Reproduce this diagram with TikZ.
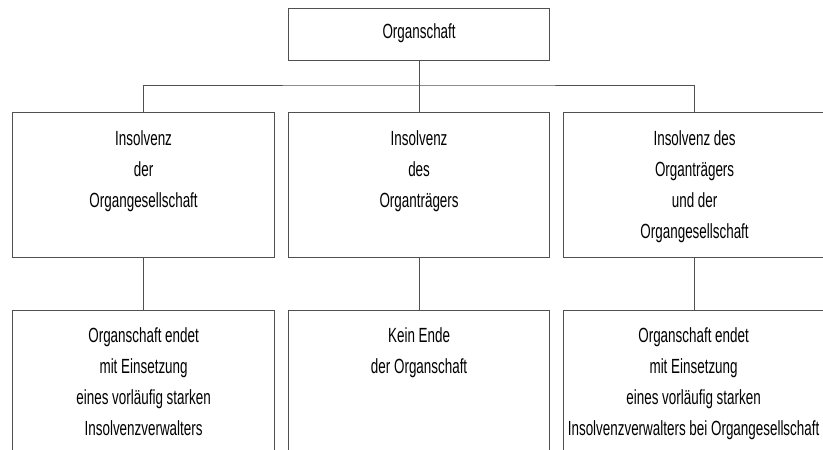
\documentclass[tikz,border=0pt]{standalone}
\usepackage{fontspec}
\setmainfont[FakeStretch=0.655]{Liberation Sans}
\definecolor{linegray}{HTML}{505050}
\begin{document}
\begin{tikzpicture}[x=1pt,y=1pt,
  box/.style={draw=linegray,line width=1.2pt,rectangle,inner sep=0pt,anchor=north west},
  txt/.style={anchor=north,inner sep=0pt,align=center,font=\fontsize{20.5}{31}\selectfont,text=black},
  conn/.style={draw=linegray,line width=1pt}]
\useasboundingbox (0,0) rectangle (823,-450);
\begin{scope}
\clip (0,0) rectangle (823,-450);
% boxes
\node[box,minimum width=261pt,minimum height=52pt] (top) at (288,-8) {};
\node[box,minimum width=262pt,minimum height=145pt] (mL) at (12,-112) {};
\node[box,minimum width=261pt,minimum height=145pt] (mM) at (288,-112) {};
\node[box,minimum width=262pt,minimum height=145pt] (mR) at (563,-112) {};
\node[box,minimum width=262pt,minimum height=160pt] (bL) at (12,-310) {};
\node[box,minimum width=261pt,minimum height=160pt] (bM) at (288,-310) {};
\node[box,minimum width=262pt,minimum height=160pt] (bR) at (563,-310) {};
% texts
\node[txt,anchor=center] (tTop) at ([yshift=1pt]top.center) {Organschaft};
\node[txt] (tL) at ([yshift=-18pt]mL.north) {Insolvenz\\der\\Organgesellschaft};
\node[txt] (tM) at ([yshift=-18pt]mM.north) {Insolvenz\\des\\Organträgers};
\node[txt] (tR) at ([yshift=-18pt]mR.north) {Insolvenz des\\Organträgers\\und der\\Organgesellschaft};
\node[txt] (uL) at ([yshift=-17pt]bL.north) {Organschaft endet\\mit Einsetzung\\eines vorläufig starken\\Insolvenzverwalters};
\node[txt] (uM) at ([yshift=-17pt]bM.north) {Kein Ende\\der Organschaft};
\node[txt] (uR) at ([xshift=-1pt,yshift=-17pt]bR.north) {Organschaft endet\\mit Einsetzung\\eines vorläufig starken\\Insolvenzverwalters bei Organgesellschaft};
% connectors
\coordinate (hub) at (top.south |- 0,-85);
\draw[conn] (top.south) -- (mM.north);
\draw[conn] (mL.north) |- (hub) -| (mR.north);
\draw[conn] (mL.south) -- (bL.north);
\draw[conn] (mM.south) -- (bM.north);
\draw[conn] (mR.south) -- (bR.north);
\end{scope}
\end{tikzpicture}
\end{document}
